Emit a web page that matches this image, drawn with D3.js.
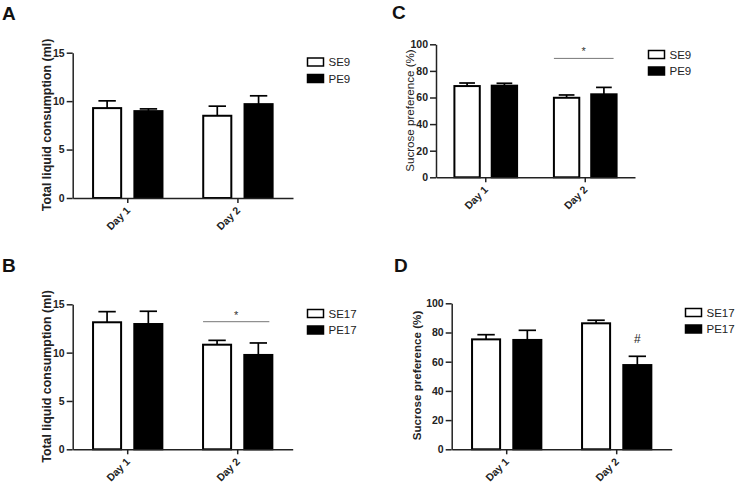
<!DOCTYPE html>
<html>
<head>
<meta charset="utf-8">
<script src="https://cdn.jsdelivr.net/npm/d3@7"></script>
<style>
  body { margin: 0; background: #fff; }
  svg { display: block; font-family: "Liberation Sans", Arial, sans-serif; }
</style>
</head>
<body>
<div id="chart"></div>
<script>
// shared categories
const days = ["Day 1", "Day 2"];

// Panel A - total liquid consumption, SE9 vs PE9
const groupsA = ["SE9", "PE9"];
const meanA = [[9.28, 8.49], [8.97, 9.69]];
const semA = [[0.75, 0.99], [0.23, 0.86]];
const ticksA = [0, 5, 10, 15];

// Panel B - total liquid consumption, SE17 vs PE17
const groupsB = ["SE17", "PE17"];
const meanB = [[13.14, 10.82], [12.96, 9.76]];
const semB = [[1.10, 0.45], [1.32, 1.24]];
const ticksB = [0, 5, 10, 15];

// Panel C - sucrose preference, SE9 vs PE9
const meanC = [[68.6, 59.8], [68.9, 62.4]];
const semC = [[2.3, 2.1], [1.8, 5.2]];
const ticksC = [0, 20, 40, 60, 80, 100];

// Panel D - sucrose preference, SE17 vs PE17
const meanD = [[75.3, 86.3], [74.9, 57.7]];
const semD = [[3.2, 2.1], [6.6, 6.0]];
const ticksD = [0, 20, 40, 60, 80, 100];

const svg = d3.select("#chart").append("svg")
    .attr("width", 739)
    .attr("height", 486);

function drawPanel(p) {
    const g = svg.append("g");

    const x = d3.scaleBand().domain(days).range([p.x0, p.x1]).padding(0);
    const inner = d3.scaleBand().domain(p.groups)
        .range([-x.bandwidth() * 0.315, x.bandwidth() * 0.315])
        .paddingInner(0.32);
    const y = d3.scaleLinear().domain([0, p.ticks[p.ticks.length - 1]]).range([p.yBot, p.yTop]);

    // panel letter
    g.append("text")
        .attr("x", p.lx).attr("y", p.ly)
        .attr("font-size", 19).attr("font-weight", "bold")
        .attr("fill", "#111")
        .text(p.letter);

    const rows = [];
    p.groups.forEach((grp, gi) => {
        days.forEach((d, di) => {
            rows.push({ grp, gi, day: d, mean: p.mean[gi][di], sem: p.sem[gi][di] });
        });
    });
    const bw = inner.bandwidth();

    // error bars (upper only)
    g.selectAll(".err").data(rows).enter().append("g")
        .each(function (d) {
            const cx = x(d.day) + x.bandwidth() / 2 + inner(d.grp) + bw / 2;
            const e = d3.select(this);
            e.append("line")
                .attr("x1", cx).attr("x2", cx)
                .attr("y1", y(d.mean)).attr("y2", y(d.mean + d.sem))
                .attr("stroke", "#000").attr("stroke-width", 1.7);
            e.append("line")
                .attr("x1", cx - bw * 0.31).attr("x2", cx + bw * 0.31)
                .attr("y1", y(d.mean + d.sem)).attr("y2", y(d.mean + d.sem))
                .attr("stroke", "#000").attr("stroke-width", 1.7);
        });

    g.selectAll(".bar").data(rows).enter().append("rect")
        .attr("x", d => x(d.day) + x.bandwidth() / 2 + inner(d.grp))
        .attr("y", d => y(d.mean))
        .attr("width", bw)
        .attr("height", d => y(0) - y(d.mean))
        .attr("fill", d => d.gi === 0 ? "#fff" : "#000")
        .attr("stroke", "#000")
        .attr("stroke-width", 2);

    // y axis
    const ya = g.append("g")
        .attr("transform", `translate(${p.x0},0)`)
        .call(d3.axisLeft(y).tickValues(p.ticks).tickSize(6).tickSizeOuter(0).tickPadding(2));
    ya.select(".domain").attr("stroke", "#222").attr("stroke-width", 1.5);
    ya.selectAll(".tick line").attr("stroke", "#222").attr("stroke-width", 1.5);
    ya.selectAll(".tick text")
        .attr("font-size", 10.5).attr("font-weight", "bold")
        .attr("font-family", "Liberation Sans, Arial, sans-serif")
        .attr("fill", "#222");

    // x axis
    const xa = g.append("g")
        .attr("transform", `translate(0,${p.yBot})`)
        .call(d3.axisBottom(x).tickSize(5).tickSizeOuter(0));
    xa.select(".domain").attr("stroke", "#222").attr("stroke-width", 1.5);
    xa.selectAll(".tick line").attr("stroke", "#222").attr("stroke-width", 1.5);
    xa.selectAll(".tick text")
        .attr("font-size", 10.5).attr("font-weight", "bold")
        .attr("font-family", "Liberation Sans, Arial, sans-serif")
        .attr("fill", "#222")
        .attr("x", 0).attr("y", 0).attr("dy", 0)
        .attr("transform", "translate(3,13) rotate(-45)")
        .style("text-anchor", "end");

    // y title
    g.append("text")
        .attr("transform", `translate(${p.tx},${p.ty}) rotate(-90)`)
        .attr("text-anchor", "middle")
        .attr("dy", "0.35em")
        .attr("font-size", p.titleSize)
        .attr("font-weight", p.titleBold ? "bold" : "normal")
        .attr("fill", "#222")
        .text(p.title);

    // significance annotation
    if (p.sig) {
        const xs = x(p.sig.day) + x.bandwidth() / 2;
        const l = xs + inner(p.groups[0]);
        const r = xs + inner(p.groups[1]) + bw - 3;
        g.append("line")
            .attr("x1", l).attr("x2", r)
            .attr("y1", y(p.sig.y)).attr("y2", y(p.sig.y))
            .attr("stroke", "#777").attr("stroke-width", 1);
        g.append("text")
            .attr("x", (l + r) / 2).attr("y", y(p.sig.y) - 3)
            .attr("text-anchor", "middle")
            .attr("font-size", 11).attr("fill", "#333")
            .text("*");
    }
    if (p.hash) {
        const cx = x(p.hash.day) + x.bandwidth() / 2 + inner(p.groups[p.hash.gi]) + bw / 2;
        g.append("text")
            .attr("x", cx).attr("y", y(p.hash.y))
            .attr("text-anchor", "middle")
            .attr("font-size", 12).attr("fill", "#222")
            .text("#");
    }

    // legend
    const lg = g.append("g").attr("transform", `translate(${p.legX},${p.legY})`);
    p.groups.forEach((grp, gi) => {
        lg.append("rect")
            .attr("x", 0).attr("y", gi * 16.5)
            .attr("width", 16).attr("height", 8)
            .attr("fill", gi === 0 ? "#fff" : "#000")
            .attr("stroke", "#000").attr("stroke-width", 1.5);
        lg.append("text")
            .attr("x", 21).attr("y", gi * 16.5 + 4)
            .attr("dy", "0.36em")
            .attr("font-size", 11.5).attr("fill", "#222")
            .text(grp);
    });
}

drawPanel({ letter: "A", lx: 2, ly: 20, groups: groupsA, mean: meanA, sem: semA, ticks: ticksA,
    x0: 72.7, x1: 293, yTop: 52.7, yBot: 198,
    title: "Total liquid consumption (ml)", titleBold: true, titleSize: 12.4, tx: 46.5, ty: 125,
    legX: 307.5, legY: 58 });

drawPanel({ letter: "B", lx: 2, ly: 272, groups: groupsB, mean: meanB, sem: semB, ticks: ticksB,
    x0: 72.7, x1: 292.7, yTop: 304.3, yBot: 449.3,
    title: "Total liquid consumption (ml)", titleBold: true, titleSize: 12.4, tx: 46.5, ty: 376.5,
    legX: 307.5, legY: 309.5, sig: { day: "Day 2", y: 13.2 } });

drawPanel({ letter: "C", lx: 392, ly: 19, groups: groupsA, mean: meanC, sem: semC, ticks: ticksC,
    x0: 436, x1: 635, yTop: 44.3, yBot: 177.3,
    title: "Sucrose preference (%)", titleBold: false, titleSize: 11.6, tx: 409.5, ty: 110.5,
    legX: 648.5, legY: 50.5, sig: { day: "Day 2", y: 89.4 } });

drawPanel({ letter: "D", lx: 394, ly: 272, groups: groupsB, mean: meanD, sem: semD, ticks: ticksD,
    x0: 451.7, x1: 671.7, yTop: 303.3, yBot: 449.3,
    title: "Sucrose preference (%)", titleBold: true, titleSize: 11.6, tx: 416.5, ty: 375.5,
    legX: 685.5, legY: 308.5, hash: { day: "Day 2", gi: 1, y: 73 } });
</script>
</body>
</html>
